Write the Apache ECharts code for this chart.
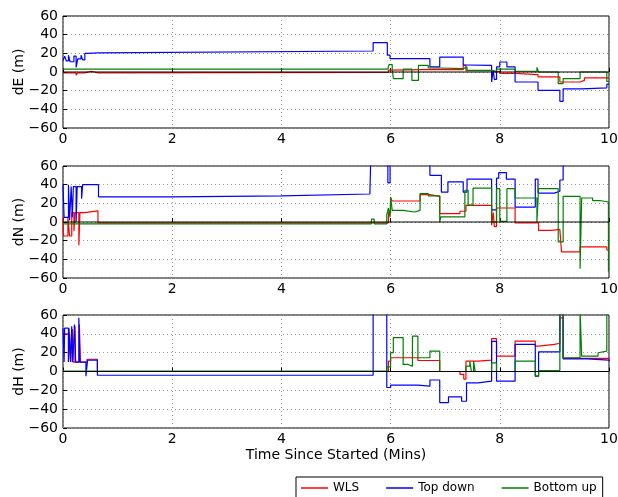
<!DOCTYPE html>
<html>
<head>
<meta charset="utf-8">
<script src="https://cdn.jsdelivr.net/npm/echarts@6/dist/echarts.min.js"></script>
<style>
    html, body { margin: 0; padding: 0; background: #fff; }
    #chart { width: 618px; height: 497px; }
</style>
</head>
<body>
<div id="chart"></div>
<script>
// step data: [minute, value], value holds until the next point
const seriesNames = ['WLS', 'Top down', 'Bottom up'];
const seriesColors = ['#ff0000', '#0000ff', '#008000'];
const panelNames = ['dE (m)', 'dN (m)', 'dH (m)'];
const xTicks = [0, 2, 4, 6, 8, 10];
const yTicks = [-60, -40, -20, 0, 20, 40, 60];

const dE_wls = [[0,-1],[0.24,-3.5],[0.27,-1],[0.4,0.8],[0.52,-1],[0.64,-0.5],[5.96,2],[6.0,2.9],[6.9,2.5],[7.33,7],[7.38,1.5],[7.85,0],[7.94,1],[8.0,-1.5],[8.28,-2.8],[8.7,-5.3],[9.1,-10.7],[9.47,-9],[9.55,-6.4],[10,-6.4]];
const dE_top = [[0,12],[0.03,17],[0.06,12],[0.1,18],[0.13,11],[0.2,17],[0.24,5],[0.27,14],[0.33,18],[0.36,13],[0.4,20],[0.46,20.5],[0.64,22.5],[5.68,31.4],[5.94,18],[5.99,14.3],[6.72,5.4],[6.9,16],[7.33,7.5],[7.38,7],[7.85,-10.7],[7.88,2],[7.9,-8],[7.94,5.4],[8.0,10.7],[8.13,5.4],[8.28,-10.7],[8.7,-19.6],[9.1,-31.4],[9.16,-18],[9.5,-17],[9.96,-13],[10,-13]];
const dE_bottom = [[0,3],[5.95,3.5],[5.97,8],[6.03,3],[6.05,-7],[6.23,3],[6.39,-9],[6.51,7],[6.69,4.3],[6.9,3.6],[7.33,5.4],[7.4,1.8],[7.85,0.8],[7.94,3],[8.28,0.8],[8.68,5],[8.71,0],[9.07,-12.5],[9.16,-7],[9.47,0],[9.96,-10],[10,-10]];

const dN_wls = [[0,5],[0.01,-15],[0.09,5],[0.12,-15],[0.16,10],[0.2,-10],[0.22,10],[0.29,-25],[0.31,10],[0.4,12],[0.64,-1],[5.96,10],[6.0,26],[6.03,22.5],[6.54,29.3],[6.72,27.5],[6.9,9],[7.27,11.5],[7.38,17.9],[7.85,-3.5],[7.88,10],[7.9,-5],[7.94,15],[8.28,-1],[8.71,-9],[8.95,-8],[9.1,-7],[9.13,-32],[9.47,-26.7],[9.96,-30],[10,-30]];
const dN_top = [[0,40],[0.02,5],[0.1,40],[0.12,2],[0.15,38],[0.17,5],[0.19,38],[0.24,0],[0.26,38],[0.34,25],[0.36,40],[0.65,27],[2,28],[4,30],[5.62,32],[5.64,75],[5.95,42],[5.99,75],[6.72,50],[6.93,32],[7.05,43],[7.33,32],[7.4,46],[7.85,13],[7.94,47],[7.98,53],[8.12,46],[8.28,16],[8.65,46],[8.7,31],[9.0,33],[9.1,45],[9.16,75],[10,75]];
const dN_bottom = [[0,-2],[5.65,3],[5.7,-2],[5.93,8],[5.96,15],[5.99,5],[6.0,26.8],[6.03,12.5],[6.23,10.7],[6.44,12.5],[6.54,30.4],[6.69,28],[6.9,0],[6.92,5.4],[7.36,34],[7.42,18],[7.51,36.4],[7.85,0],[7.94,35.7],[8.0,0.7],[8.13,35.7],[8.28,25.7],[8.68,0],[8.71,35.7],[9.07,-21.4],[9.16,27.5],[9.47,-50],[9.5,25.7],[9.7,23],[9.83,21.4],[9.99,-53],[10,-53]];

const dH_wls = [[0,40],[0.1,10],[0.12,40],[0.14,10],[0.17,45],[0.18,10],[0.22,48],[0.23,10],[0.3,50],[0.32,10],[0.44,13],[0.63,0],[5.96,11],[6.0,14.6],[6.5,11.7],[6.9,0],[7.27,-3],[7.34,-8],[7.38,11],[7.6,12],[7.85,35],[7.94,16.3],[8.28,32.3],[8.65,27],[8.71,28.8],[9.0,30],[9.1,57],[9.16,14],[10,12]];
const dH_top = [[0,46],[0.02,10],[0.03,46],[0.1,10],[0.11,46],[0.14,10],[0.16,48],[0.18,10],[0.21,50],[0.23,10],[0.29,57],[0.31,10],[0.42,-5],[0.45,12],[0.63,-4],[5.68,75],[5.93,-17],[6.0,-14.5],[6.5,-15.6],[6.72,-9],[6.9,-33],[7.06,-27],[7.3,-31.6],[7.39,-12],[7.6,-10.3],[7.85,32],[7.94,-10.3],[8.28,28.8],[8.65,-5],[8.71,20.9],[9.1,75],[9.16,13.5],[9.6,12],[10,11]];
const dH_bottom = [[0,0.5],[5.93,5],[6.0,20],[6.05,36],[6.23,7.5],[6.32,5.7],[6.4,37.6],[6.5,14.6],[6.72,21.7],[6.9,0],[7.38,5.7],[7.45,11],[7.48,0],[7.52,11],[7.55,0],[7.85,9.2],[7.94,0],[8.28,11],[8.65,-5],[8.71,1],[9.1,65],[9.16,14.6],[9.47,65],[9.5,16.3],[9.8,19.9],[9.83,21.7],[9.96,65],[10,65]];

const zeroLine = [[0,0],[10,0]];

const panelData = [
    [dE_wls, dE_top, dE_bottom],
    [dN_wls, dN_top, dN_bottom],
    [dH_wls, dH_top, dH_bottom]
];

const FONT = 'DejaVu Sans';
let grids = [
    {left: 63, top: 16, width: 546, height: 112},
    {left: 63, top: 166, width: 546, height: 112},
    {left: 63, top: 315, width: 546, height: 113}
];

function minus(v) {
    return String(v).replace('-', '\u2212');
}

let gridLine = {show: true, lineStyle: {color: '#999', type: [1, 3], width: 1}};

let xAxes = [], yAxes = [], series = [];
grids.forEach((g, i) => {
    g.show = true;
    g.borderColor = '#000';
    g.borderWidth = 1;
    g.containLabel = false;
    g.outerBoundsMode = 'none';
    xAxes.push({
        type: 'value', gridIndex: i,
        min: xTicks[0], max: xTicks[xTicks.length - 1], interval: 2,
        axisLine: {show: false},
        axisTick: {show: true, inside: true, length: 4, lineStyle: {color: '#000'}},
        axisLabel: {color: '#000', fontFamily: FONT, fontSize: 14, margin: 4},
        splitLine: gridLine,
        name: i == 2 ? 'Time Since Started (Mins)' : '',
        nameLocation: 'middle', nameGap: 20, nameMoveOverlap: false,
        nameTextStyle: {color: '#000', fontFamily: FONT, fontSize: 14}
    });
    yAxes.push({
        type: 'value', gridIndex: i,
        min: yTicks[0], max: yTicks[yTicks.length - 1], interval: 20,
        axisLine: {show: false},
        axisTick: {show: true, inside: true, length: 4, lineStyle: {color: '#000'}},
        axisLabel: {color: '#000', fontFamily: FONT, fontSize: 14, margin: 5, formatter: minus},
        splitLine: gridLine,
        name: panelNames[i], nameLocation: 'middle', nameGap: 37, nameMoveOverlap: false,
        nameTextStyle: {color: '#000', fontFamily: FONT, fontSize: 14}
    });
    panelData[i].forEach((d, k) => {
        series.push({
            name: seriesNames[k], type: 'line', step: 'end',
            xAxisIndex: i, yAxisIndex: i,
            data: d, showSymbol: false, symbol: 'none', clip: true,
            lineStyle: {color: seriesColors[k], width: 1.2},
            itemStyle: {color: seriesColors[k]},
            animation: false, silent: true
        });
    });
    series.push({
        name: 'zero', type: 'line', xAxisIndex: i, yAxisIndex: i,
        data: zeroLine, showSymbol: false, symbol: 'none',
        lineStyle: {color: '#000', width: 1}, animation: false, silent: true
    });
});

let myChart = echarts.init(document.getElementById('chart'), null, {renderer: 'canvas'});
let option = {
    animation: false,
    backgroundColor: '#fff',
    grid: grids,
    xAxis: xAxes,
    yAxis: yAxes,
    legend: {
        data: seriesNames,
        left: 296, top: 477,
        orient: 'horizontal',
        icon: 'rect', itemWidth: 27, itemHeight: 1.5, itemGap: 27,
        padding: [5, 6, 5, 5],
        borderColor: '#000', borderWidth: 1, backgroundColor: '#fff',
        textStyle: {color: '#000', fontFamily: FONT, fontSize: 12}
    },
    series: series
};
myChart.setOption(option);
</script>
</body>
</html>
